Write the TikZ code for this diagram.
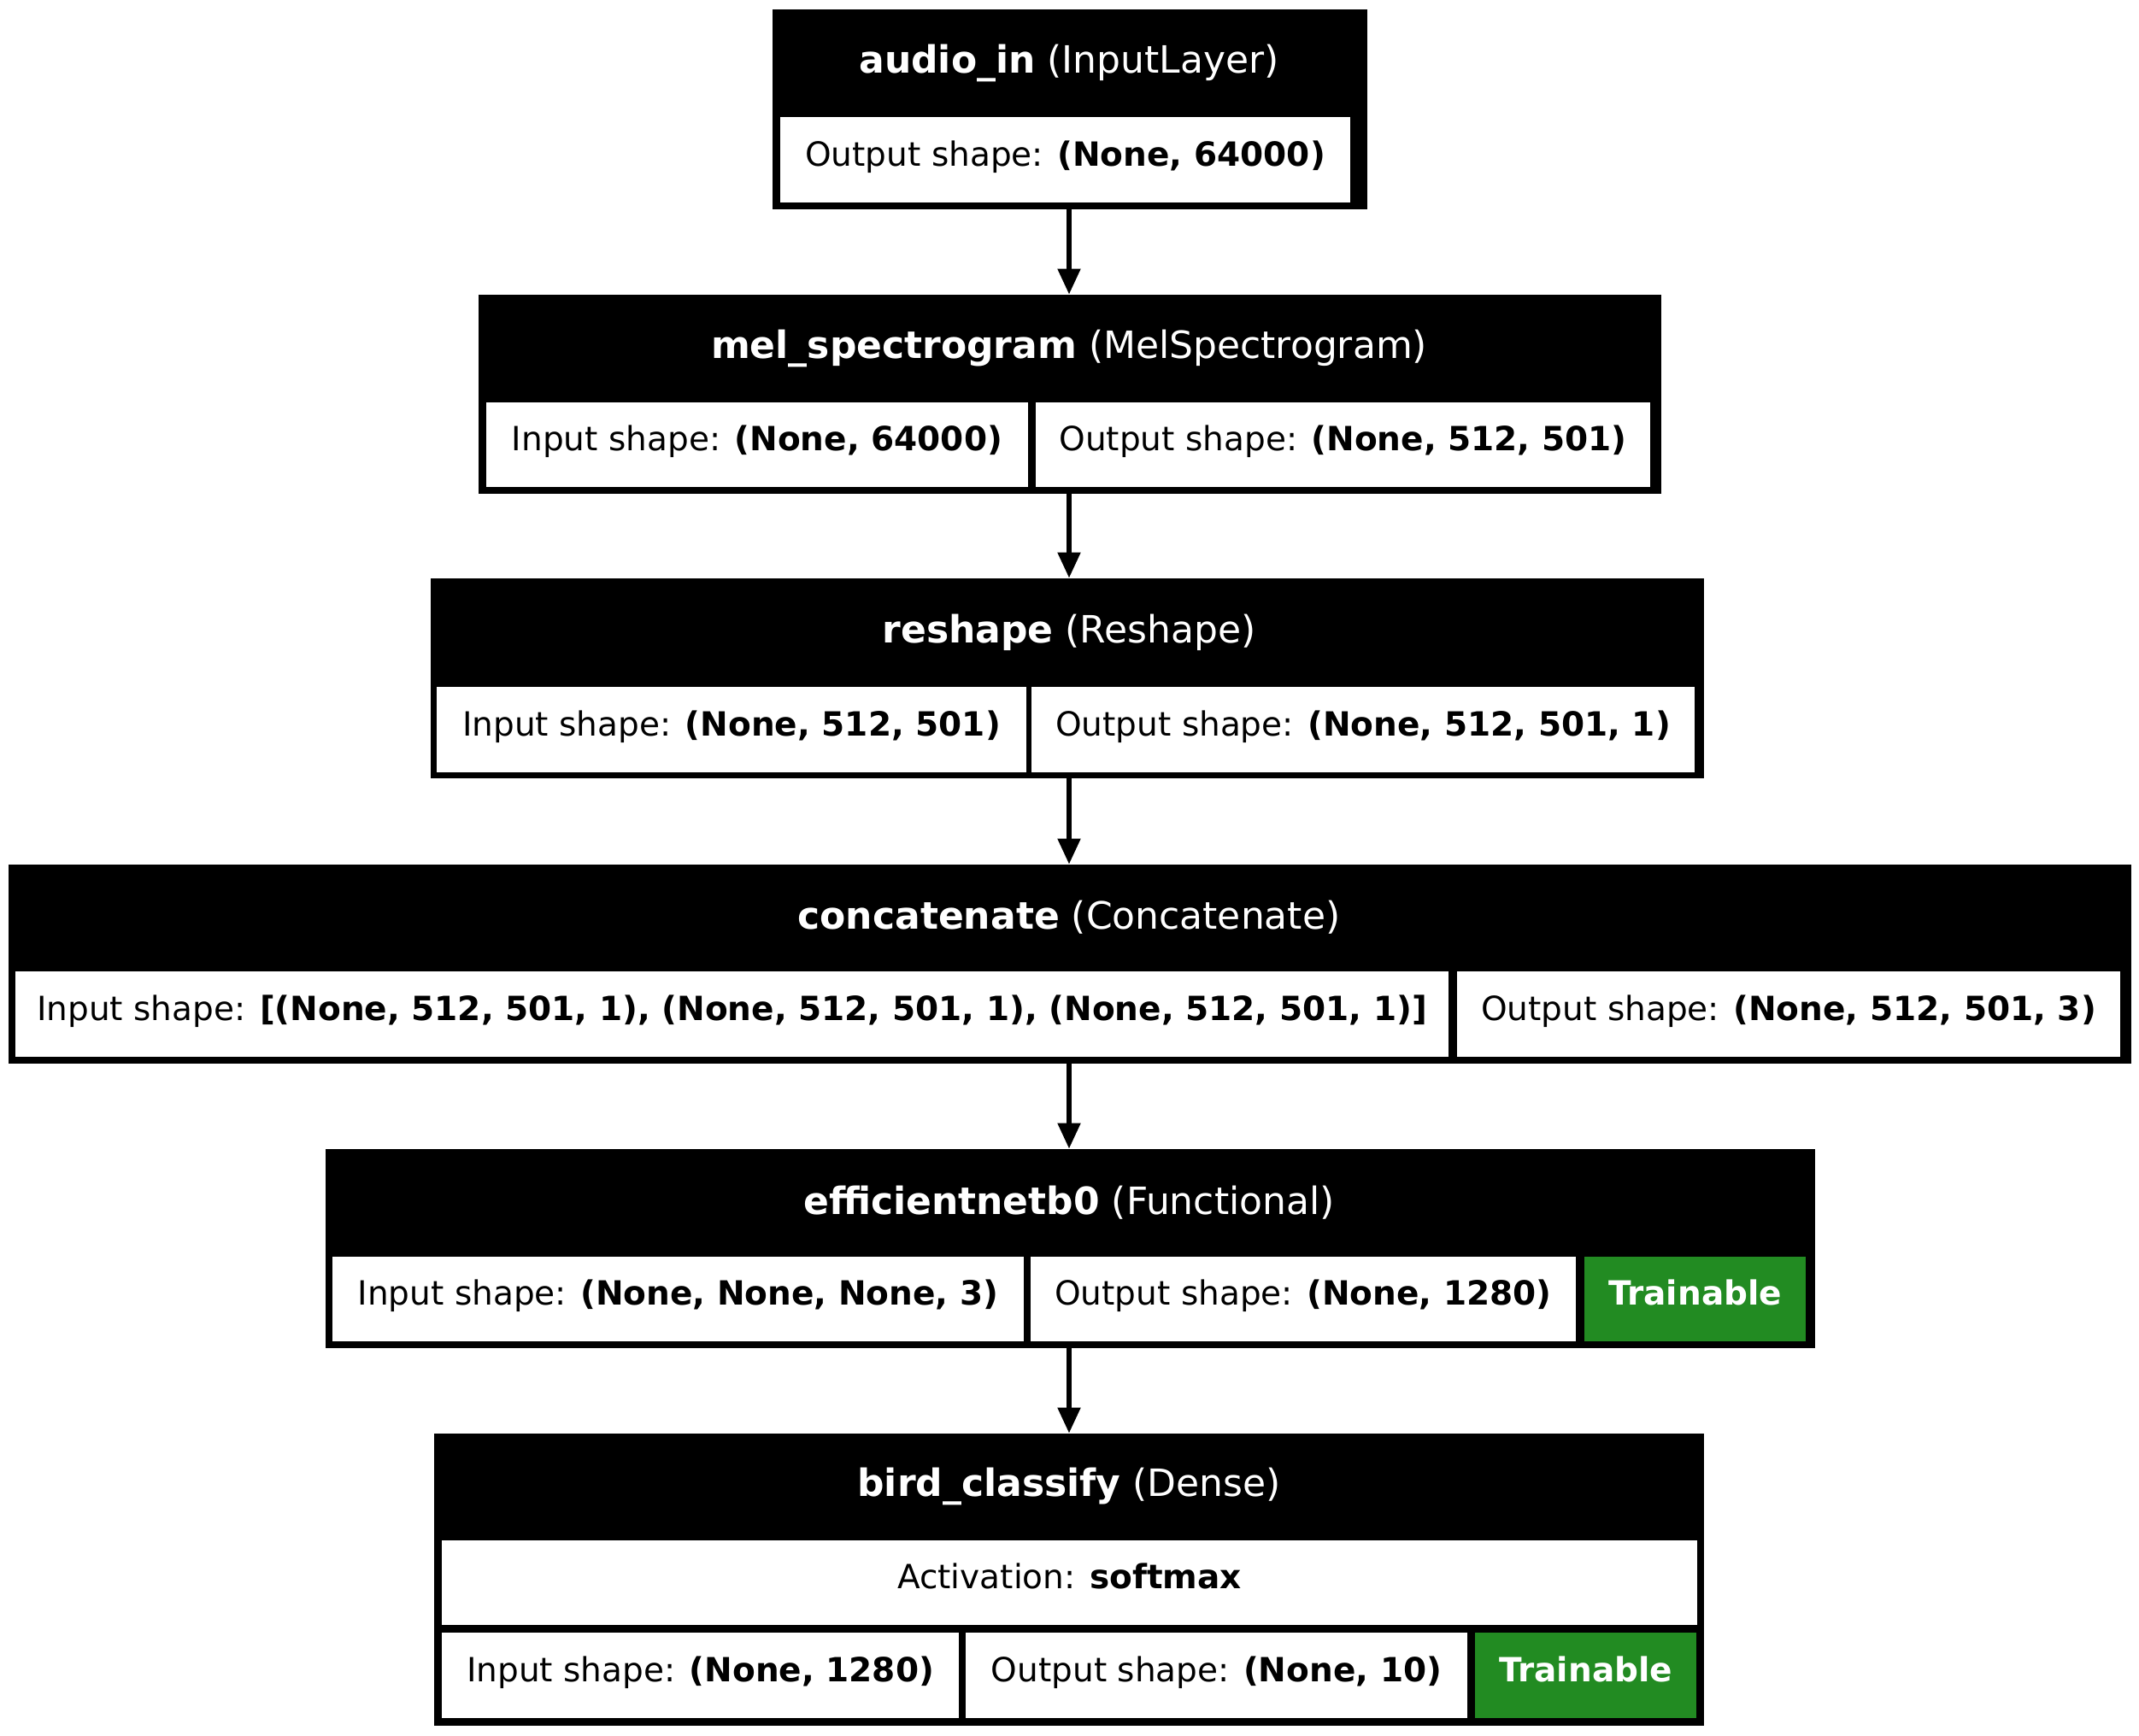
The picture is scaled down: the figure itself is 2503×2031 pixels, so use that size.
\documentclass[tikz,border=0pt]{standalone}
\usepackage{fontspec}
\setmainfont{DejaVu Sans}
\usetikzlibrary{fit,arrows.meta}
\definecolor{traingreen}{HTML}{228B22}
\newcommand\headfont{\fontsize{22}{26}\selectfont}
\newcommand\bodyfont{\fontsize{19.5}{23}\selectfont}
\begin{document}
\begin{tikzpicture}[x=0.5pt,y=-0.5pt,
  layerbox/.style={fill=black, draw=black, line width=0.5pt, inner sep=0pt},
  cellbox/.style={fill=white, inner sep=0pt},
  trainbox/.style={fill=traingreen, inner sep=0pt},
  celltext/.style={font=\bodyfont, text=black, inner sep=0pt, anchor=base, yshift=-3.5pt},
  traintext/.style={celltext, font=\bodyfont\bfseries, text=white},
  headtext/.style={text=white, font=\headfont, inner sep=0pt, anchor=center},
  conn/.style={line width=2.7pt, -{Triangle[length=15pt,width=13pt]}}]
\useasboundingbox[fill=white] (0,0) rectangle (2503,2031);
\coordinate (spine) at (1251,0);

% audio_in
\node[layerbox, fit={(904,11) (1599,244)}] (b1) {};
\node[headtext] (h1) at (1251,74) {\textbf{audio\_in} (InputLayer)};
\node[cellbox, fit={(913,137) (1580,237)}] (b1o) {};
\node[celltext] (t1o) at (b1o.center) {Output shape: \textbf{(None, 64000)}};

% mel_spectrogram
\node[layerbox, fit={(560,345) (1943,577)}] (b2) {};
\node[headtext] (h2) at (1251,408) {\textbf{mel\_spectrogram} (MelSpectrogram)};
\node[cellbox, fit={(569,471) (1203,570)}] (b2i) {};
\node[cellbox, fit={(1212,471) (1931,570)}] (b2o) {};
\node[celltext] (t2i) at (b2i.center) {Input shape: \textbf{(None, 64000)}};
\node[celltext] (t2o) at (b2o.center) {Output shape: \textbf{(None, 512, 501)}};

% reshape
\node[layerbox, fit={(504,677) (1993,910)}] (b3) {};
\node[headtext] (h3) at (1251,740) {\textbf{reshape} (Reshape)};
\node[cellbox, fit={(511,804) (1201,904)}] (b3i) {};
\node[cellbox, fit={(1207,804) (1983,904)}] (b3o) {};
\node[celltext] (t3i) at (b3i.center) {Input shape: \textbf{(None, 512, 501)}};
\node[celltext] (t3o) at (b3o.center) {Output shape: \textbf{(None, 512, 501, 1)}};

% concatenate
\node[layerbox, fit={(10,1012) (2493,1244)}] (b4) {};
\node[headtext] (h4) at (1251,1074) {\textbf{concatenate} (Concatenate)};
\node[cellbox, fit={(18,1137) (1695,1237)}] (b4i) {};
\node[cellbox, fit={(1705,1137) (2481,1237)}] (b4o) {};
\node[celltext] (t4i) at (b4i.center) {Input shape: \textbf{[(None, 512, 501, 1), (None, 512, 501, 1), (None, 512, 501, 1)]}};
\node[celltext] (t4o) at (b4o.center) {Output shape: \textbf{(None, 512, 501, 3)}};

% efficientnetb0
\node[layerbox, fit={(381,1345) (2123,1577)}] (b5) {};
\node[headtext] (h5) at (1251,1408) {\textbf{efficientnetb0} (Functional)};
\node[cellbox, fit={(389,1471) (1198,1570)}] (b5i) {};
\node[cellbox, fit={(1206,1471) (1844,1570)}] (b5o) {};
\node[trainbox, fit={(1854,1471) (2113,1570)}] (b5t) {};
\node[celltext] (t5i) at (b5i.center) {Input shape: \textbf{(None, None, None, 3)}};
\node[celltext] (t5o) at (b5o.center) {Output shape: \textbf{(None, 1280)}};
\node[traintext] (t5t) at (b5t.center) {Trainable};

% bird_classify
\node[layerbox, fit={(508,1678) (1993,2019)}] (b6) {};
\node[headtext] (h6) at (1251,1740) {\textbf{bird\_classify} (Dense)};
\node[cellbox, fit={(517,1803) (1986,1902)}] (b6a) {};
\node[cellbox, fit={(517,1911) (1122,2011)}] (b6i) {};
\node[cellbox, fit={(1130,1911) (1717,2011)}] (b6o) {};
\node[trainbox, fit={(1726,1911) (1985,2011)}] (b6t) {};
\node[celltext] (t6a) at (b6a.center) {Activation: \textbf{softmax}};
\node[celltext] (t6i) at (b6i.center) {Input shape: \textbf{(None, 1280)}};
\node[celltext] (t6o) at (b6o.center) {Output shape: \textbf{(None, 10)}};
\node[traintext] (t6t) at (b6t.center) {Trainable};

% connectors
\draw[conn] (spine |- b1.south) -- (spine |- b2.north);
\draw[conn] (spine |- b2.south) -- (spine |- b3.north);
\draw[conn] (spine |- b3.south) -- (spine |- b4.north);
\draw[conn] (spine |- b4.south) -- (spine |- b5.north);
\draw[conn] (spine |- b5.south) -- (spine |- b6.north);
\end{tikzpicture}
\end{document}
